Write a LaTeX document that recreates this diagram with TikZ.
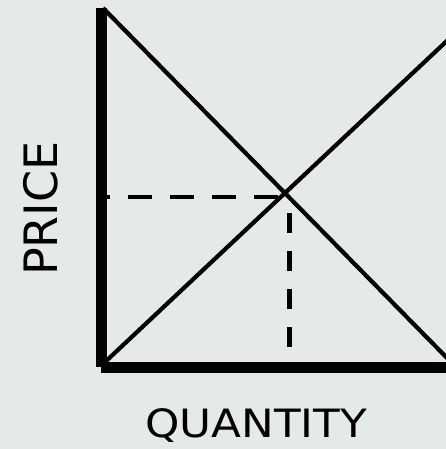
\documentclass[tikz,border=0pt]{standalone}
\usepackage{fontspec}
\setmainfont{DejaVu Sans}
\definecolor{bg}{RGB}{229,233,231}
\begin{document}
\begin{tikzpicture}[x=1pt,y=-1pt,
  axis/.style={line width=11pt, line cap=butt},
  curve/.style={line width=4.2pt},
  guide/.style={line width=4.5pt},
  lbl/.style={inner sep=0pt, text depth=0pt, font=\fontsize{39}{39}\selectfont}]
\fill[bg] (0,0) rectangle (446,449);
\useasboundingbox (0,0) rectangle (446,449);
\begin{scope}
\clip (0,0) rectangle (446,449);
\coordinate (ytop) at (101.5,8);
\coordinate (yend) at (101.5,367);
\coordinate (xstart) at (101,367.5);
\coordinate (xend) at (446,367.5);
\coordinate (dtop) at (103,8);
\coordinate (dend) at (450,361);
\coordinate (sbot) at (104,363);
\coordinate (send) at (450,38);
\coordinate (hs) at (107,197);
\coordinate (he) at (282,197);
\coordinate (vs) at (289.5,197);
\coordinate (ve) at (289.5,362);
\draw[guide, dash pattern=on 24pt off 18pt, dash phase=21pt] (hs) -- (he);
\draw[guide, dash pattern=on 20pt off 18pt, dash phase=22pt] (vs) -- (ve);
\draw[curve] (dtop) -- (dend);
\draw[curve] (sbot) -- (send);
\draw[axis] (ytop) -- (yend);
\draw[axis] (xstart) -- (xend);
\end{scope}
\node[lbl, anchor=base west, xscale=1.12] (q) at (145,437) {QUANTITY};
\node[lbl, font=\fontsize{46}{46}\selectfont, anchor=base west, rotate=90] (p) at (57,276) {PRICE};
\end{tikzpicture}
\end{document}
